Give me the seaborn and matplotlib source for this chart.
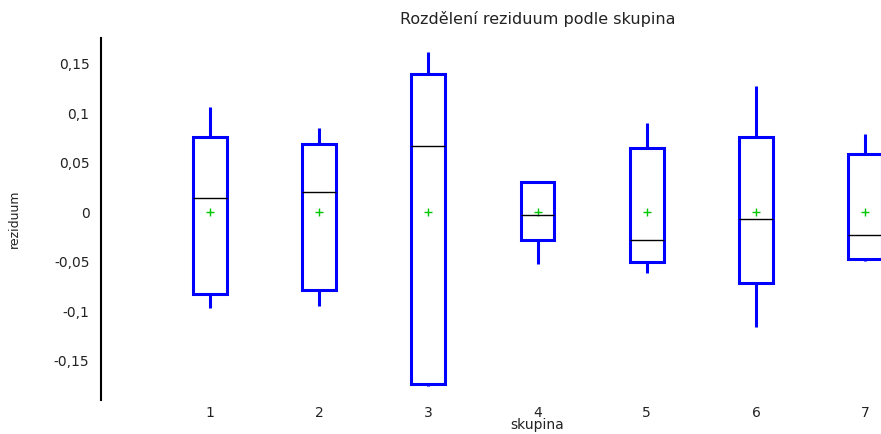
import matplotlib
matplotlib.use("Agg")
import matplotlib.pyplot as plt
from matplotlib.ticker import FuncFormatter
import seaborn as sns
import pandas as pd

# ---- data ----
groups = ["1", "2", "3", "4", "5", "6", "7"]
whisker_low = [-0.097, -0.0946, -0.1754, -0.0528, -0.0613, -0.1158, -0.0492]
q1 = [-0.0825, -0.079, -0.1734, -0.0286, -0.0508, -0.0714, -0.0471]
median = [0.0141, 0.0205, 0.0667, -0.0034, -0.0286, -0.0067, -0.0236]
q3 = [0.0758, 0.0684, 0.1397, 0.030, 0.0646, 0.0758, 0.0589]
whisker_high = [0.1064, 0.0845, 0.162, 0.0316, 0.0896, 0.127, 0.0788]
means = [0.0, 0.0, 0.0, 0.0, 0.0, 0.0, 0.0]
yticks = [-0.15, -0.1, -0.05, 0.0, 0.05, 0.1, 0.15]

title = "Rozdělení reziduum podle skupina"
xlabel = "skupina"
ylabel = "reziduum"

rows = []
for g, a, b, c, d, e in zip(groups, whisker_low, q1, median, q3, whisker_high):
    for v in (a, b, c, d, e):
        rows.append({"skupina": g, "reziduum": v})
df = pd.DataFrame(rows)

sns.set_style("white")
plt.rcParams["font.family"] = ["DejaVu Sans"]

fig = plt.figure(figsize=(8.81, 4.34), dpi=100)
ax = fig.add_axes([100.5 / 881, 34 / 434, 874 / 881, 362 / 434])

sns.boxplot(data=df, x="skupina", y="reziduum", order=groups,
            color="white", linecolor="#0000ff", linewidth=2.2, width=0.31,
            showcaps=False, fliersize=0,
            medianprops=dict(color="black", linewidth=1.0),
            ax=ax)

sns.pointplot(x=groups, y=means, order=groups, errorbar=None,
              linestyle="none", marker="+", markersize=6,
              markeredgewidth=1.0, color="#00c800", ax=ax)

ax.set_xlim(-1, 7)
ax.set_ylim(-0.1899, 0.1758)
ax.set_yticks(yticks)

def fmt(v, pos):
    if abs(v) < 1e-12:
        return "0"
    return ("%g" % round(v, 4)).replace(".", ",")

ax.yaxis.set_major_formatter(FuncFormatter(fmt))

for s in ("top", "right", "bottom"):
    ax.spines[s].set_visible(False)
ax.spines["left"].set_color("black")
ax.spines["left"].set_linewidth(1.5)

ax.tick_params(axis="y", direction="in", length=7.5, width=1.2, color="black",
               pad=8, labelsize=10, labelcolor="#222222")
ax.tick_params(axis="x", length=0, pad=4, labelsize=10, labelcolor="#222222")

ax.set_xlabel(xlabel, fontsize=10, color="#222222", labelpad=-1)
ax.set_ylabel(ylabel, fontsize=9, color="#222222", labelpad=24)
ax.set_title(title, fontsize=11.5, color="#222222", pad=10)

fig.savefig("out.png", dpi=100)
